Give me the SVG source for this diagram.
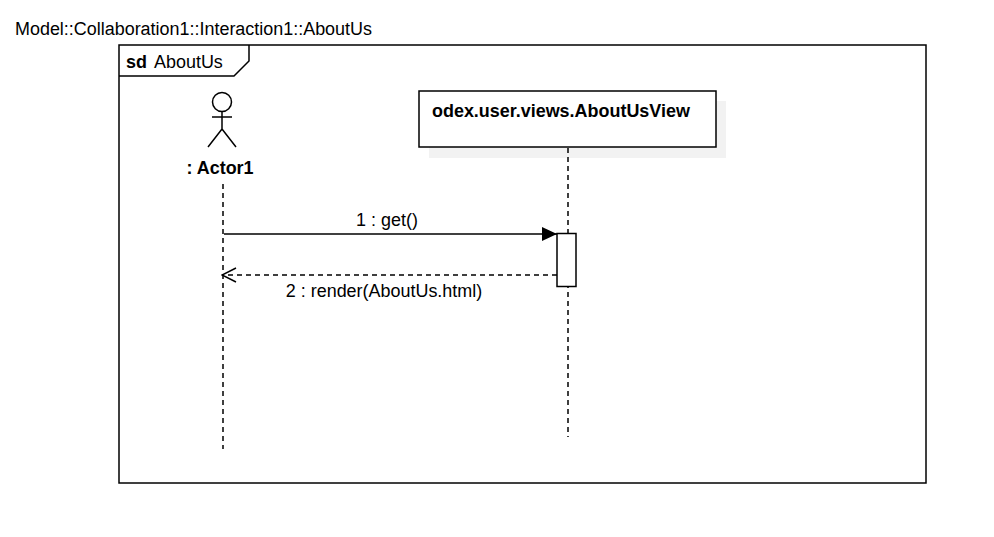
<svg xmlns="http://www.w3.org/2000/svg" width="994" height="537" viewBox="0 0 994 537">
<style>
text{font-family:"Liberation Sans",Arial,sans-serif;font-size:17.95px;fill:#000}
.b{font-weight:bold}
.s{fill:none;stroke:#000;stroke-width:1.5}
.d{fill:none;stroke:#000;stroke-width:1.5;stroke-dasharray:5 4}
</style>
<defs>
<marker id="filled" markerUnits="userSpaceOnUse" markerWidth="16" markerHeight="14" refX="15" refY="7" orient="auto"><path d="M0 0L15 7L0 14Z" fill="#000"/></marker>
<marker id="open" markerUnits="userSpaceOnUse" markerWidth="16" markerHeight="16" refX="15" refY="8" orient="auto"><path d="M1 1L15 8L1 15" fill="none" stroke="#000" stroke-width="1.5"/></marker>
</defs>
<rect width="994" height="537" fill="#fff"/>
<text x="15" y="35">Model::Collaboration1::Interaction1::AboutUs</text>
<g id="frame">
<rect x="119" y="45" width="807" height="438" fill="#fff" stroke="#000" stroke-width="1.5"/>
<path class="s" d="M119 76H234L249 61V45"/>
<text x="126" y="68"><tspan class="b">sd</tspan><tspan x="154">AboutUs</tspan></text>
</g>
<g id="actor1">
<circle class="s" cx="222" cy="102" r="9.500"/>
<path class="s" d="M222 112V129M212 117H232M208 147L222 129L236 147"/>
<text class="b" x="220" y="174" text-anchor="middle">: Actor1</text>
</g>
<g id="aboutUsView">
<rect x="429" y="101" width="297" height="57" fill="#f2f2f2"/>
<rect x="419" y="91" width="297" height="56" fill="#fff" stroke="#000" stroke-width="1.5"/>
<text class="b" x="432" y="117">odex.user.views.AboutUsView</text>
</g>
<g id="connectors">
<path class="d" d="M223 184V449"/>
<path class="d" d="M568 148V437"/>
<path class="s" d="M224 234H557" marker-end="url(#filled)"/>
<path class="d" d="M557 275H222" marker-end="url(#open)"/>
</g>
<g id="activation">
<rect x="557" y="233.500" width="19" height="53" fill="#fff" stroke="#000" stroke-width="1.5"/>
</g>
<text x="387" y="226" text-anchor="middle">1 : get()</text>
<text x="384" y="297" text-anchor="middle">2 : render(AboutUs.html)</text>
</svg>
